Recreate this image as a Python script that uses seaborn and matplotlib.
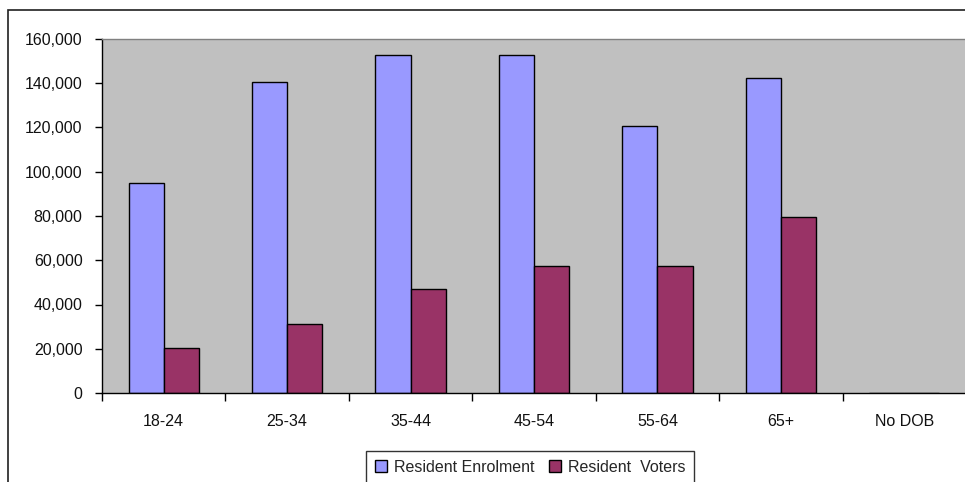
import matplotlib
matplotlib.use('Agg')
import matplotlib.pyplot as plt
import seaborn as sns
import pandas as pd
from matplotlib.patches import Rectangle, Patch
from matplotlib.ticker import FuncFormatter

# Data
age_groups = ['18-24', '25-34', '35-44', '45-54', '55-64', '65+', 'No DOB']
enrolment = [94800, 140700, 152800, 152800, 120800, 142500, 0]
voters = [20200, 31000, 47000, 57200, 57200, 79500, 0]
series_names = ['Resident Enrolment', 'Resident  Voters']

df = pd.DataFrame({
    'group': age_groups * 2,
    'value': enrolment + voters,
    'series': [series_names[0]] * len(age_groups) + [series_names[1]] * len(age_groups),
})

sns.set_theme(style='white')
plt.rcParams['font.family'] = ['Liberation Sans', 'DejaVu Sans']

colors = ['#9999FF', '#993366']
fs = 11.5

fig = plt.figure(figsize=(9.65, 4.82), dpi=100)
W, H = 965, 482

# outer chart-area border (cropped on right and bottom in the original)
fig.patches.append(Rectangle((8 / W, -0.1), 1.2, (H - 10) / H + 0.1,
                             transform=fig.transFigure, fill=False,
                             edgecolor='#202020', linewidth=1.2))

ax = fig.add_axes([102 / W, (H - 393) / H, (966 - 102) / W, (393 - 39) / H])
ax.set_facecolor('#C0C0C0')

sns.barplot(data=df, x='group', y='value', hue='series', palette=colors,
            width=0.57, gap=0, edgecolor='black', linewidth=1.0,
            saturation=1, legend=False, ax=ax)

ax.set_ylim(0, 160000)
ax.set_xlim(-0.5, len(age_groups) - 0.5)
ax.set_yticks(range(0, 160001, 20000))
ax.yaxis.set_major_formatter(FuncFormatter(lambda v, p: f'{int(v):,}'))
ax.set_xlabel('')
ax.set_ylabel('')

# category boundary ticks
ax.set_xticks([i - 0.5 for i in range(len(age_groups))], minor=True)
ax.tick_params(axis='x', which='minor', direction='out', length=6, width=1, color='black', bottom=True)
ax.tick_params(axis='x', which='major', length=0, pad=15, labelsize=fs, labelcolor='#111111')
ax.tick_params(axis='y', direction='out', length=5, width=1, color='black', left=True,
               pad=9, labelsize=fs, labelcolor='#111111')

for side in ['left', 'bottom']:
    ax.spines[side].set_color('black')
    ax.spines[side].set_linewidth(1.0)
for side in ['top', 'right']:
    ax.spines[side].set_color('#808080')
    ax.spines[side].set_linewidth(1.0)

handles = [Patch(facecolor=c, edgecolor='black', linewidth=1.0) for c in colors]
leg = fig.legend(handles, series_names, loc='upper left',
                 bbox_to_anchor=(366 / W, (H - 451) / H), ncol=2,
                 frameon=True, fancybox=False, edgecolor='black',
                 fontsize=fs, handlelength=0.75, handleheight=0.75,
                 handletextpad=0.45, columnspacing=0.9, borderpad=0.55,
                 borderaxespad=0)
leg.get_frame().set_linewidth(1.0)

fig.savefig('out.png', dpi=100, facecolor='white')
